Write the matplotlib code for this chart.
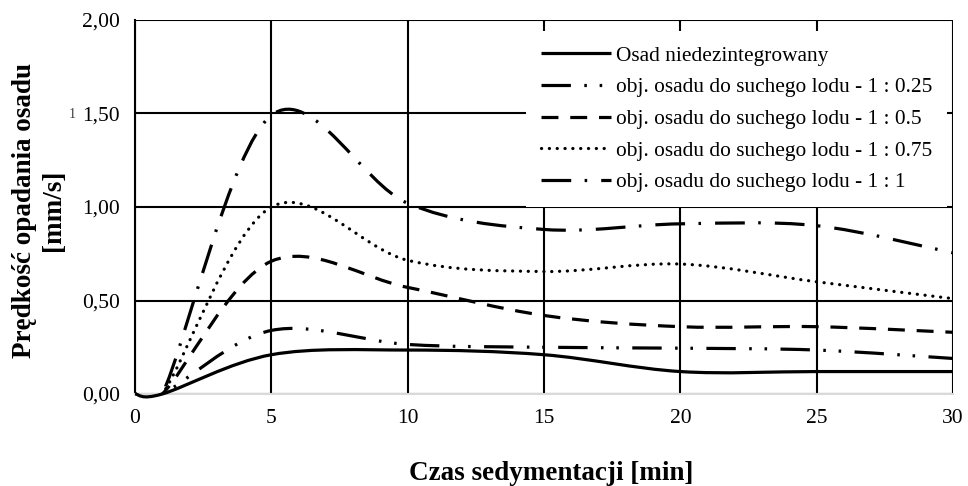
import numpy as np
import matplotlib
matplotlib.use("Agg")
import matplotlib.pyplot as plt
from matplotlib.path import Path
from matplotlib.patches import PathPatch
from matplotlib.lines import Line2D
from matplotlib.ticker import FuncFormatter

plt.rcParams['font.family'] = ['Liberation Serif', 'DejaVu Serif']

# dane
czas = [0, 1, 5, 10, 15, 20, 25, 30]
osad_niedez = [0, 0, 0.21, 0.235, 0.21, 0.12, 0.12, 0.12]
lod_025 = [0, 0, 0.34, 0.265, 0.25, 0.245, 0.235, 0.19]
lod_05 = [0, 0, 0.71, 0.57, 0.42, 0.36, 0.36, 0.33]
lod_075 = [0, 0, 1.0, 0.715, 0.655, 0.695, 0.60, 0.51]
lod_1 = [0, 0, 1.49, 1.02, 0.88, 0.91, 0.90, 0.755]

etykiety = ['Osad niedezintegrowany',
            'obj. osadu do suchego lodu - 1 : 0.25',
            'obj. osadu do suchego lodu - 1 : 0.5',
            'obj. osadu do suchego lodu - 1 : 0.75',
            'obj. osadu do suchego lodu - 1 : 1']

style = ['-',
         (0, (9.2, 4.2, 0.8, 4.0, 0.8, 4.2)),
         (0, (5.3, 3.7)),
         (0, (0.05, 2.4)),
         (0, (9.3, 4.2, 0.8, 4.4))]
caps = ['butt', 'butt', 'butt', 'round', 'butt']
LW = 2.3


def gladka_sciezka(x, y):
    # wygladzanie jak w Excelu: krzywe Beziera, punkty kontrolne z sasiadow (1/6)
    p = np.column_stack([x, y]).astype(float)
    n = len(p)
    verts = [p[0]]
    codes = [Path.MOVETO]
    for i in range(n - 1):
        p_prev = p[max(i - 1, 0)]
        p_next2 = p[min(i + 2, n - 1)]
        c1 = p[i] + (p[i + 1] - p_prev) / 6.0
        c2 = p[i + 1] - (p_next2 - p[i]) / 6.0
        verts += [c1, c2, p[i + 1]]
        codes += [Path.CURVE4] * 3
    return Path(verts, codes)


fig = plt.figure(figsize=(9.68, 4.86), dpi=100)
ax = fig.add_axes([135/968, 1 - 394/486, 818/968, 374/486])

serie = [osad_niedez, lod_025, lod_05, lod_075, lod_1]
uchwyty = []
for i, (s, ls, cs, lab) in enumerate(zip(serie, style, caps, etykiety)):
    patch = PathPatch(gladka_sciezka(czas, s), fill=False, edgecolor='black',
                      lw=LW, linestyle=ls, capstyle=cs, joinstyle='round', zorder=3)
    ax.add_patch(patch)
    if i == 0:
        patch.set_clip_on(False)
    uchwyty.append(Line2D([], [], color='black', lw=LW, linestyle=ls,
                          dash_capstyle=cs, solid_capstyle='butt', label=lab))

ax.set_xlim(0, 30)
ax.set_ylim(0, 2)
ax.set_xticks(range(0, 31, 5))
ax.set_yticks(np.arange(0, 2.01, 0.5))
ax.yaxis.set_major_formatter(FuncFormatter(lambda v, p: f'{v:.2f}'.replace('.', ',')))
ax.grid(True, color='black', lw=1.5)
ax.set_axisbelow(True)
ax.tick_params(length=0, labelsize=15.5, pad=11)

for k in ['top', 'right']:
    ax.spines[k].set_visible(False)
ax.spines['left'].set_color('black')
ax.spines['left'].set_linewidth(1.5)
ax.spines['bottom'].set_color('#d9d9d9')
ax.spines['bottom'].set_linewidth(1.5)

leg = ax.legend(handles=uchwyty, loc='upper right',
                bbox_to_anchor=((947 - 135) / 818, (394 - 31) / 374),
                borderaxespad=0, fontsize=15.4, frameon=True, fancybox=False,
                framealpha=1, facecolor='white', edgecolor='none',
                handlelength=3.27, handletextpad=0.23, labelspacing=0.54,
                borderpad=0.7)
leg.set_zorder(5)

fig.text(39/968, 1 - 210/486, 'Prędkość opadania osadu\n[mm/s]', rotation=90,
         ha='center', va='center', multialignment='center',
         fontsize=19.5, fontweight='bold', linespacing=1.2)
fig.text(551/968, 1 - 473/486, 'Czas sedymentacji [min]', ha='center', va='center',
         fontsize=19.5, fontweight='bold')
fig.text(72/968, 1 - 114/486, '1', ha='center', va='center', fontsize=10, color='#404040')

fig.savefig('out.png', dpi=100)
